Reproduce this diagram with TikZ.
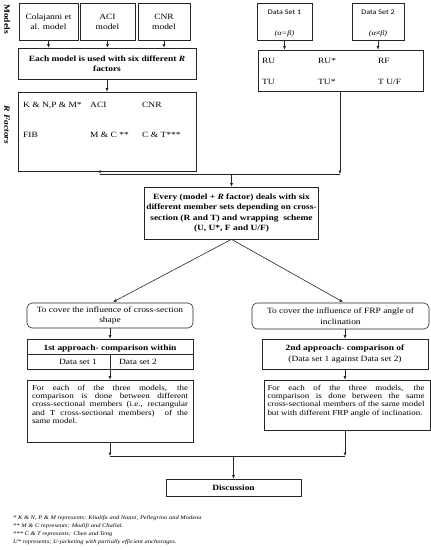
\documentclass[tikz,border=0pt]{standalone}
\usepackage{fontspec}
\setmainfont{Liberation Serif}[FakeStretch=1.18]
\newfontfamily\dsfont{Carlito}[FakeStretch=1.15]
\usetikzlibrary{arrows.meta}
\begin{document}
\begin{tikzpicture}[x=1pt,y=-1pt,
  bx/.style={draw=black!85, line width=0.6pt, inner sep=2pt, align=center, font=\fontsize{8}{10}\selectfont},
  rbx/.style={bx, rounded corners=5pt},
  txt/.style={inner sep=0pt, font=\fontsize{8}{10}\selectfont},
  dtxt/.style={inner sep=0pt, align=justify, font=\fontsize{7.6}{8.4}\selectfont},
  foot/.style={inner sep=0pt, anchor=west, font=\fontsize{5.5}{6}\selectfont\itshape},
  ln/.style={draw=black!85, line width=0.6pt},
  arr/.style={ln, -{Latex[length=3.5pt,width=3pt]}}]
\useasboundingbox (0,0) rectangle (431,550);

% side labels
\node[inner sep=0pt, rotate=-90, font=\fontsize{8}{10}\selectfont\bfseries] (lmodels) at (7,19) {Models};
\node[inner sep=0pt, rotate=-90, font=\fontsize{8}{10}\selectfont\bfseries\itshape] (lrfac) at (7,125) {R Factors};

% models
\node[bx, minimum width=59pt, minimum height=37pt] (colaj) at (48.5,21.5) {Colajanni et\\al. model};
\node[bx, minimum width=55pt, minimum height=37pt] (aci) at (107.5,21.5) {ACI\\model};
\node[bx, minimum width=52pt, minimum height=37pt] (cnr) at (164,21.5) {CNR\\model};

\node[bx, minimum width=178pt, minimum height=31pt, font=\fontsize{8}{10.5}\selectfont\bfseries] (each) at (107,63.5) {Each model is used with six different \textit{R}\\factors};

\node[bx, minimum width=178pt, minimum height=79pt] (rfac) at (107,131.5) {};
\node[txt, anchor=west] (r11) at (23,105) {K \& N,P \& M*};
\node[txt, anchor=west] (r12) at (90,105) {ACI};
\node[txt, anchor=west] (r13) at (142,105) {CNR};
\node[txt, anchor=west] (r21) at (23,135) {FIB};
\node[txt, anchor=west] (r22) at (90,135) {M \& C **};
\node[txt, anchor=west] (r23) at (142,135) {C \& T***};

% data sets
\node[bx, minimum width=55pt, minimum height=37pt] (ds1) at (284.5,21.5) {};
\node[txt, font=\fontsize{7}{8}\dsfont] (ds1a) at (284.5,12) {Data Set 1};
\node[txt, font=\fontsize{7}{8}\selectfont\itshape] (ds1b) at (284.5,34) {(α=β)};
\node[bx, minimum width=52pt, minimum height=37pt] (ds2) at (378,21.5) {};
\node[txt, font=\fontsize{7}{8}\dsfont] (ds2a) at (378,12) {Data Set 2};
\node[txt, font=\fontsize{7}{8}\selectfont\itshape] (ds2b) at (378,34) {(α≠β)};

\node[bx, minimum width=165pt, minimum height=41pt] (rtab) at (340.5,70.5) {};
\node[txt, anchor=west] (t11) at (262,61) {RU};
\node[txt, anchor=west] (t12) at (318,61) {RU*};
\node[txt, anchor=west] (t13) at (378,61) {RF};
\node[txt, anchor=west] (t21) at (262,82) {TU};
\node[txt, anchor=west] (t22) at (318,82) {TU*};
\node[txt, anchor=west] (t23) at (378,82) {T U/F};

% main box
\node[bx, minimum width=169pt, minimum height=52pt, font=\fontsize{8}{10.3}\selectfont\bfseries] (main) at (231.5,213) {Every (model + \textit{R} factor) deals with six\\different member sets depending on cross-\\section (R and T) and wrapping \ scheme\\(U, U*, F and U/F)};

% left branch
\node[rbx, minimum width=166pt, minimum height=25pt, font=\fontsize{8}{10.5}\selectfont] (lround) at (110,315.5) {To cover the influence of cross-section\\shape};
\node[bx, minimum width=166pt, minimum height=30pt] (l1st) at (110,354) {};
\node[txt, font=\fontsize{8}{10}\selectfont\bfseries] (l1sth) at (110,349) {1st approach- comparison within};
\node[txt] (l1sta) at (78,361.5) {Data set 1};
\node[txt] (l1stb) at (138,361.5) {Data set 2};
\coordinate (lhl) at (27,354);
\coordinate (lhr) at (193,354);
\coordinate (lvt) at (110,354);
\draw[ln] (lhl) -- (lhr);
\draw[ln] (lvt) -- (lvt |- l1st.south);

\node[bx, minimum width=166pt, minimum height=62pt] (ldesc) at (110,411) {};
\node[dtxt, text width=156pt, anchor=north] (ldesct) at (110,384.5) {For each of the three models, the\linebreak comparison is done between different\linebreak cross-sectional members (i.e., rectangular\linebreak and T cross-sectional members) \ of the\linebreak same model.};

% right branch
\node[rbx, minimum width=177pt, minimum height=26pt, font=\fontsize{8}{10.5}\selectfont] (rround) at (340.5,316) {To cover the influence of FRP angle of\\inclination};
\node[bx, minimum width=166pt, minimum height=30pt, font=\fontsize{8}{11}\selectfont] (r2nd) at (345,354) {\textbf{2nd approach- comparison of}\\(Data set 1 against Data set 2)};
\node[bx, minimum width=166pt, minimum height=50pt] (rdesc) at (347,405) {};
\node[dtxt, text width=157pt, anchor=north] (rdesct) at (346,384.5) {For each of the three models, the\linebreak comparison is done between the same\linebreak cross-sectional members of the same model\linebreak but with different FRP angle of inclination.};

% discussion
\node[bx, minimum width=135pt, minimum height=17pt, font=\fontsize{8}{10}\selectfont\bfseries] (disc) at (233.5,487.5) {Discussion};

% footnotes
\node[foot] (f1) at (13,518) {* K \& N, P \& M represents: Khalifa and Nanni, Pellegrino and Modena};
\node[foot] (f2) at (13,526) {** M \& C represents: Modifi and Challal.};
\node[foot] (f3) at (13,534) {*** C \& T represents: Chen and Teng};
\node[foot] (f4) at (13,542) {U* represents; U-jacketing with partially efficient anchorages.};

% connectors top
\draw[arr] (colaj.south) -- (colaj.south |- each.north);
\draw[arr] (aci.south) -- (aci.south |- each.north);
\draw[arr] (cnr.south) -- (cnr.south |- each.north);
\draw[arr] (each.south) -- (rfac.north);
\draw[arr] (ds1.south) -- (ds1.south |- rtab.north);
\draw[arr] (ds2.south) -- (ds2.south |- rtab.north);

\coordinate (j1) at (100,174);
\coordinate (j2) at (340,174);
\draw[arr] (rfac.south -| j1) -- (j1);
\draw[arr] (rtab.south -| j2) -- (j2);
\draw[ln] (j1) -- (j2);
\draw[arr] (main.north |- j1) -- (main.north);

% diagonals
\coordinate (dl) at (113,302);
\coordinate (dr) at (343,302);
\draw[arr] (main.south) -- (dl);
\draw[arr] (main.south) -- (dr);

\draw[arr] (lround.south) -- (l1st.north);
\draw[arr] (l1st.south) -- (ldesc.north);
\draw[arr] (rround.south -| r2nd.north) -- (r2nd.north);
\draw[arr] (r2nd.south) -- (r2nd.south |- rdesc.north);

% bottom merge
\coordinate (j3) at (110,456);
\coordinate (j4) at (345,456);
\draw[arr] (ldesc.south -| j3) -- (j3);
\draw[arr] (rdesc.south -| j4) -- (j4);
\draw[ln] (j3) -- (j4);
\draw[arr] (disc.north |- j3) -- (disc.north);
\end{tikzpicture}
\end{document}
